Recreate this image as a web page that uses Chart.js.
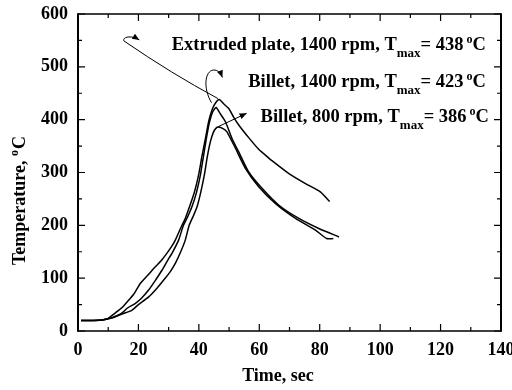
<!DOCTYPE html>
<html>
<head>
<meta charset="utf-8">
<script src="https://cdn.jsdelivr.net/npm/chart.js@4.4.0/dist/chart.umd.min.js"></script>
<style>
  html, body { margin: 0; padding: 0; background: #fff; }
  #wrap { width: 512px; height: 390px; }
</style>
</head>
<body>
<div id="wrap"><canvas id="chart" width="512" height="390"></canvas></div>
<script>
// extruded plate, 1400 rpm
const plateTime = [1, 5, 8, 10, 12.3, 14.5, 16.7, 18.5, 20.6, 23, 25.5, 27.5, 29.4, 31, 32.2, 34, 35.5, 36.9, 38.5, 39.9, 41, 42.2, 43.3, 44.6, 45.8, 46.8, 48.2, 49.9, 51.5, 53.2, 56.5, 59.8, 62, 64.3, 69.8, 75.3, 80.3, 83.3];
const plateTemp = [20, 20, 21, 24, 34, 44, 58, 70, 90, 105, 121, 133, 147, 160, 172, 195, 213, 235, 262, 295, 330, 365, 398, 422, 434, 438, 430, 421, 405, 390, 366, 344, 333, 322, 298, 279, 263, 245];
// billet, 1400 rpm
const b1400Time = [1, 5, 8, 10, 12, 14.5, 16.5, 18.9, 21, 23.3, 25.5, 27.8, 30, 31.1, 33.3, 34.9, 36.2, 37.7, 39.2, 40.5, 41.5, 42.5, 43.5, 44.6, 45.7, 47, 48.8, 51, 53.2, 56.5, 60.9, 66.5, 73.1, 79.7, 86.4];
const b1400Temp = [20, 20, 21, 23, 27, 34, 44, 52, 62, 77, 95, 115, 137, 147, 172, 200, 215, 235, 262, 295, 330, 365, 395, 415, 423, 412, 396, 364, 339, 301, 270, 238, 213, 194, 178];
// billet, 800 rpm
const b800Time = [1, 5, 8, 10, 12, 14.5, 17.8, 20, 23.3, 26, 28.3, 30.5, 32.2, 34, 35.5, 36.8, 38.2, 39.4, 40.6, 41.8, 42.8, 43.8, 44.8, 45.7, 46.5, 48, 49.3, 52.1, 55.4, 59.8, 65.4, 72, 78.6, 82.3, 84.5];
const b800Temp = [20, 20, 21, 23, 26, 32, 39, 50, 64, 80, 96, 112, 128, 150, 172, 200, 218, 235, 262, 295, 330, 358, 376, 384, 386, 383, 377, 346, 308, 273, 241, 213, 191, 175, 175];

const xTicks = [0, 20, 40, 60, 80, 100, 120, 140];
const yTicks = [0, 100, 200, 300, 400, 500, 600];

// annotation text
const labelNames = ['Extruded plate, 1400 rpm, T', 'Billet, 1400 rpm, T', 'Billet, 800 rpm, T'];
const labelTmax = [438, 423, 386];
const labelRightT = [135, 135, 136];
const labelBaseTemp = [532, 461, 396];

function pts(ts, vs) { return ts.map((t, i) => ({ x: t, y: vs[i] })); }

const FONT = "'Liberation Serif', 'Times New Roman', serif";

const decor = {
  id: 'decor',
  afterDraw(chart) {
    const ctx = chart.ctx;
    const xs = chart.scales.x, ys = chart.scales.y;
    const L = xs.left, R = xs.right, T0 = ys.top, B = ys.bottom;
    const P = (t, T) => [xs.getPixelForValue(t), ys.getPixelForValue(T)];
    ctx.save();
    ctx.strokeStyle = '#000';
    ctx.fillStyle = '#000';

    // frame
    ctx.lineWidth = 1.5;
    ctx.beginPath();
    ctx.moveTo(L, T0); ctx.lineTo(R, T0);
    ctx.moveTo(L, B); ctx.lineTo(R, B);
    ctx.stroke();
    ctx.lineWidth = 2;
    ctx.beginPath();
    ctx.moveTo(L, T0 - 0.75); ctx.lineTo(L, B + 0.75);
    ctx.moveTo(R, T0 - 0.75); ctx.lineTo(R, B + 0.75);
    ctx.stroke();

    // inward ticks
    ctx.lineWidth = 1.2;
    ctx.beginPath();
    for (let v = 0; v <= 140; v += 10) {
      const px = xs.getPixelForValue(v);
      const len = v % 20 === 0 ? 7 : 4;
      ctx.moveTo(px, B); ctx.lineTo(px, B - len);
      ctx.moveTo(px, T0); ctx.lineTo(px, T0 + len);
    }
    for (let v = 0; v <= 600; v += 50) {
      const py = ys.getPixelForValue(v);
      const len = v % 100 === 0 ? 7 : 4;
      ctx.moveTo(L, py); ctx.lineTo(L + len, py);
      ctx.moveTo(R, py); ctx.lineTo(R - len, py);
    }
    ctx.stroke();

    // arrows
    function head(from, to) {
      const ang = Math.atan2(to[1] - from[1], to[0] - from[0]);
      const hl = 7, hw = 3;
      ctx.beginPath();
      ctx.moveTo(to[0], to[1]);
      ctx.lineTo(to[0] - hl * Math.cos(ang) + hw * Math.sin(ang), to[1] - hl * Math.sin(ang) - hw * Math.cos(ang));
      ctx.lineTo(to[0] - hl * Math.cos(ang) - hw * Math.sin(ang), to[1] - hl * Math.sin(ang) + hw * Math.cos(ang));
      ctx.closePath();
      ctx.fill();
    }
    ctx.lineWidth = 1;
    // arrow 1: extruded plate
    let s = P(46.3, 440), c = P(31, 487), m = P(15.2, 549);
    let c1 = P(14.6, 556), c2 = P(17.5, 561), e = P(20.3, 551);
    ctx.beginPath();
    ctx.moveTo(...s); ctx.quadraticCurveTo(...c, ...m); ctx.bezierCurveTo(...c1, ...c2, ...e);
    ctx.stroke();
    head(c2, e);
    // arrow 2: billet 1400
    s = P(44.2, 432); c1 = P(41.3, 460); c2 = P(42, 492); m = P(44.8, 494);
    c = P(46.8, 495); e = P(47.8, 480);
    ctx.beginPath();
    ctx.moveTo(...s); ctx.bezierCurveTo(...c1, ...c2, ...m); ctx.quadraticCurveTo(...c, ...e);
    ctx.stroke();
    head(c, e);
    // arrow 3: billet 800
    s = P(46.3, 386.5); e = P(55.8, 412);
    ctx.beginPath(); ctx.moveTo(...s); ctx.lineTo(...e); ctx.stroke();
    head(s, e);

    // labels
    const big = 'bold 18.5px ' + FONT, sub = 'bold 13px ' + FONT, sup = 'bold 12px ' + FONT;
    ctx.textBaseline = 'alphabetic';
    ctx.textAlign = 'left';
    for (let i = 0; i < labelNames.length; i++) {
      const parts = [
        [labelNames[i], big, 0],
        ['max', sub, 7],
        ['= ' + labelTmax[i], big, 0],
        [' ', sup, 0],
        ['o', sup, -7],
        ['C', big, 0]
      ];
      let w = 0;
      parts.forEach(p => { ctx.font = p[1]; w += ctx.measureText(p[0]).width; });
      const [rx, by] = P(labelRightT[i], labelBaseTemp[i]);
      let cx = rx - w;
      parts.forEach(p => { ctx.font = p[1]; ctx.fillText(p[0], cx, by + p[2]); cx += ctx.measureText(p[0]).width; });
    }

    // x title
    ctx.font = 'bold 18px ' + FONT;
    ctx.textAlign = 'center';
    ctx.fillText('Time, sec', L + 200, B + 50);

    // y title (rotated, with superscript)
    ctx.save();
    ctx.translate(25, B - 66);
    ctx.rotate(-Math.PI / 2);
    ctx.textAlign = 'left';
    let tx = 0;
    ctx.font = 'bold 18px ' + FONT; ctx.fillText('Temperature, ', tx, 0); tx += ctx.measureText('Temperature, ').width;
    ctx.font = sup; ctx.fillText('o', tx, -7); tx += ctx.measureText('o').width + 1;
    ctx.font = 'bold 18px ' + FONT; ctx.fillText('C', tx, 0);
    ctx.restore();

    ctx.restore();
  }
};

const lineStyle = { borderColor: '#000', borderWidth: 1.5, pointRadius: 0, tension: 0.2, fill: false };

new Chart(document.getElementById('chart'), {
  type: 'line',
  data: {
    datasets: [
      Object.assign({ label: 'Extruded plate, 1400 rpm', data: pts(plateTime, plateTemp) }, lineStyle),
      Object.assign({ label: 'Billet, 1400 rpm', data: pts(b1400Time, b1400Temp) }, lineStyle),
      Object.assign({ label: 'Billet, 800 rpm', data: pts(b800Time, b800Temp) }, lineStyle)
    ]
  },
  options: {
    responsive: false,
    animation: false,
    devicePixelRatio: 1,
    layout: { padding: { left: 0, top: 14, right: 11, bottom: 0 } },
    plugins: { legend: { display: false }, tooltip: { enabled: false } },
    scales: {
      x: {
        type: 'linear', min: 0, max: 140,
        afterBuildTicks: s => { s.ticks = xTicks.map(v => ({ value: v })); },
        afterFit: s => { s.height = 59; s.paddingLeft = 0; s.paddingRight = 0; },
        grid: { display: false, drawTicks: false },
        border: { display: false },
        ticks: { color: '#000', padding: 9, maxRotation: 0, font: { family: FONT, size: 18, weight: 'bold' } }
      },
      y: {
        type: 'linear', min: 0, max: 600,
        afterBuildTicks: s => { s.ticks = yTicks.map(v => ({ value: v })); },
        afterFit: s => { s.width = 78; s.paddingTop = 0; s.paddingBottom = 0; },
        grid: { display: false, drawTicks: false },
        border: { display: false },
        ticks: { color: '#000', padding: 10, font: { family: FONT, size: 18, weight: 'bold' } }
      }
    }
  },
  plugins: [decor]
});
</script>
</body>
</html>
